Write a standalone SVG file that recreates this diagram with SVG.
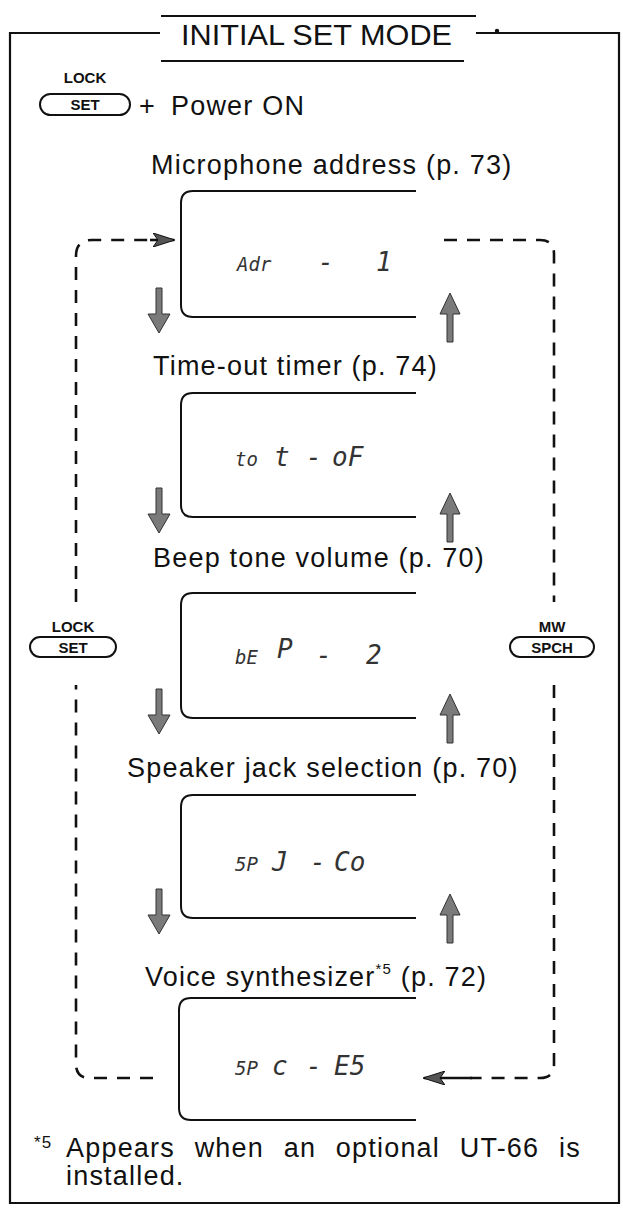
<svg xmlns="http://www.w3.org/2000/svg" width="623" height="1217" viewBox="0 0 623 1217">
<defs>
<style>
.frame{fill:none;stroke:#111;stroke-width:2.2}
.lbl{font-family:"Liberation Sans",Arial,sans-serif;font-size:27px;letter-spacing:1.2px;fill:#111}
.btn{fill:none;stroke:#111;stroke-width:2}
.btxt{font-family:"Liberation Sans",Arial,sans-serif;font-weight:bold;font-size:15px;fill:#111;text-anchor:middle}
.box{fill:none;stroke:#111;stroke-width:2}
.lcd{font-family:"DejaVu Sans Mono",monospace;font-style:italic;font-size:26px;fill:#333}
.lcds{font-size:19px}
.dash{fill:none;stroke:#111;stroke-width:2.6;stroke-dasharray:13 10}
.solid{fill:none;stroke:#111;stroke-width:2.6}
.garrow{fill:#7a7a7a;stroke:#333;stroke-width:1}
</style>
<marker id="ah2" viewBox="0 0 22 14" refX="21" refY="7" markerWidth="22" markerHeight="14" orient="auto" markerUnits="userSpaceOnUse">
<path d="M0,0 L22,7 L0,14 L5,7 z" fill="#555" stroke="#111" stroke-width="1"/>
</marker>
</defs>

<g id="frame">
<path class="frame" d="M160,33 L10,33 L10,1203 L619,1203 L619,33 L476,33"/>
<line x1="161" y1="16" x2="476" y2="16" stroke="#111" stroke-width="2.2"/>
<line x1="161" y1="61" x2="464" y2="61" stroke="#111" stroke-width="2.2"/>
<circle cx="497" cy="31" r="2.2" fill="#111"/>
<text x="181" y="45" font-family="Liberation Sans, Arial, sans-serif" font-size="29" fill="#111" textLength="271" lengthAdjust="spacingAndGlyphs">INITIAL SET MODE</text>
</g>

<g id="start">
<text class="btxt" x="85" y="83">LOCK</text>
<rect class="btn" x="40" y="94" width="90" height="21" rx="10.5"/>
<text class="btxt" x="85" y="110">SET</text>
<text class="lbl" x="139" y="115" font-size="30">+<tspan x="171">Power ON</tspan></text>
</g>

<g id="connectors">
<path class="dash" d="M153,1078 L90,1078 Q76,1078 76,1064 L76,685"/>
<path class="dash" d="M76,602 L76,256 Q76,240 92,240 L150,240"/>
<line class="solid" x1="150" y1="240" x2="174" y2="240" marker-end="url(#ah2)"/>
<path class="dash" d="M444,240 L540,240 Q554,240 554,254 L554,602"/>
<path class="dash" d="M554,685 L554,1064 Q554,1078 540,1078 L470,1078"/>
<line class="solid" x1="472" y1="1078" x2="424" y2="1078" marker-end="url(#ah2)"/>
<g id="down-arrows">
<polygon class="garrow" points="156,288 162,288 162,314 170,314 159,333 148,314 156,314"/>
<polygon class="garrow" points="156,488 162,488 162,514 170,514 159,533 148,514 156,514"/>
<polygon class="garrow" points="156,689 162,689 162,715 170,715 159,734 148,715 156,715"/>
<polygon class="garrow" points="156,889 162,889 162,915 170,915 159,934 148,915 156,915"/>
</g>
<g id="up-arrows">
<polygon class="garrow" points="450,293 460,314 453,314 453,342 447,342 447,314 440,314"/>
<polygon class="garrow" points="450,493 460,514 453,514 453,542 447,542 447,514 440,514"/>
<polygon class="garrow" points="450,694 460,715 453,715 453,743 447,743 447,715 440,715"/>
<polygon class="garrow" points="450,894 460,915 453,915 453,943 447,943 447,915 440,915"/>
</g>
</g>

<g id="btn-set">
<text class="btxt" x="73" y="632">LOCK</text>
<rect class="btn" x="30" y="637" width="86" height="20" rx="10"/>
<text class="btxt" x="73" y="653">SET</text>
</g>
<g id="btn-spch">
<text class="btxt" x="552" y="632" font-size="14">MW</text>
<rect class="btn" x="510" y="637" width="84" height="20" rx="10"/>
<text class="btxt" x="552" y="653">SPCH</text>
</g>

<g id="mic-address">
<text class="lbl" x="151" y="174">Microphone address (p. 73)</text>
<path class="box" d="M416,191 L193,191 Q181,191 181,203 L181,305 Q181,317 193,317 L416,317"/>
<text class="lcd" y="271"><tspan class="lcds" x="237">Adr</tspan><tspan x="318">-</tspan><tspan x="376">1</tspan></text>
</g>

<g id="time-out-timer">
<text class="lbl" x="153" y="375">Time-out timer (p. 74)</text>
<path class="box" d="M416,393 L193,393 Q181,393 181,405 L181,505 Q181,517 193,517 L416,517"/>
<text class="lcd" y="466"><tspan class="lcds" x="235">to</tspan><tspan x="274">t</tspan><tspan x="306">-</tspan><tspan x="332">oF</tspan></text>
</g>

<g id="beep-tone">
<text class="lbl" x="153" y="567">Beep tone volume (p. 70)</text>
<path class="box" d="M416,593 L193,593 Q181,593 181,605 L181,706 Q181,718 193,718 L416,718"/>
<text class="lcd" y="664"><tspan class="lcds" x="235">bE</tspan><tspan x="277" dy="-6">P</tspan><tspan x="316" dy="6">-</tspan><tspan x="366">2</tspan></text>
</g>

<g id="speaker-jack">
<text class="lbl" x="127" y="777">Speaker jack selection (p. 70)</text>
<path class="box" d="M416,795 L193,795 Q181,795 181,807 L181,906 Q181,918 193,918 L416,918"/>
<text class="lcd" y="871"><tspan class="lcds" x="235">5P</tspan><tspan x="272">J</tspan><tspan x="310">-</tspan><tspan x="334">Co</tspan></text>
</g>

<g id="voice-synth">
<text class="lbl" x="145" y="986">Voice synthesizer<tspan font-size="15" dy="-12">*5</tspan><tspan dy="12"> (p. 72)</tspan></text>
<path class="box" d="M416,998 L191,998 Q179,998 179,1010 L179,1108 Q179,1120 191,1120 L416,1120"/>
<text class="lcd" y="1075"><tspan class="lcds" x="235">5P</tspan><tspan x="272">c</tspan><tspan x="306">-</tspan><tspan x="334">E5</tspan></text>
</g>

<g id="footnote">
<text class="lbl" x="34" y="1157"><tspan font-size="17" dy="-9">*5</tspan><tspan x="66" dy="9" word-spacing="11">Appears when an optional UT-66 is</tspan></text>
<text class="lbl" x="66" y="1185">installed.</text>
</g>
</svg>
